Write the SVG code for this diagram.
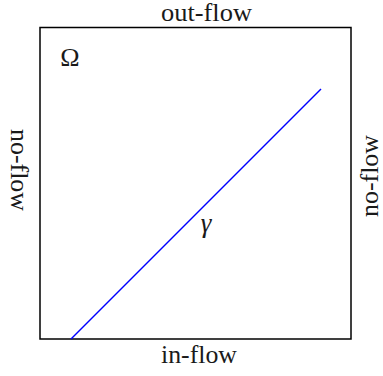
<svg xmlns="http://www.w3.org/2000/svg" width="383" height="376" viewBox="0 0 383 376">
<style>
text{font-family:"Liberation Serif","Times New Roman",serif;fill:#1a1a1a;text-anchor:middle;font-weight:normal}
.lbl{font-size:25px}
</style>
<rect width="383" height="376" fill="#fff"/>
<g id="domain">
<rect x="40" y="27.5" width="311" height="311.5" fill="none" stroke="#000" stroke-width="1.5"/>
<text x="70" y="66" font-size="26">Ω</text>
</g>
<g id="connectors">
<line x1="71" y1="339" x2="321" y2="89" stroke="#0000ff" stroke-width="1.5"/>
</g>
<g id="gamma">
<text x="206" y="232" font-size="27" font-style="italic">γ</text>
</g>
<g id="labels">
<text class="lbl" x="206.5" y="21" textLength="91" lengthAdjust="spacingAndGlyphs">out-flow</text>
<text class="lbl" x="199" y="363" textLength="76" lengthAdjust="spacingAndGlyphs">in-flow</text>
<text class="lbl" transform="translate(11,170) rotate(90)" textLength="82" lengthAdjust="spacingAndGlyphs">no-flow</text>
<text class="lbl" transform="translate(378,176) rotate(-90)" textLength="82" lengthAdjust="spacingAndGlyphs">no-flow</text>
</g>
</svg>
